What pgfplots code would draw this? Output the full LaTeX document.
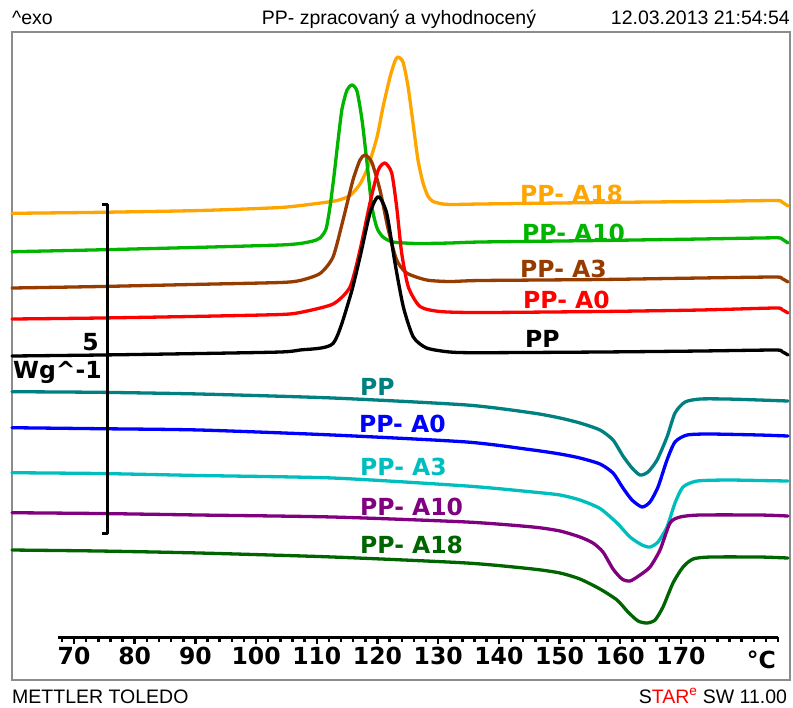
\documentclass[border=0pt]{standalone}
\usepackage{pgfplots}
\pgfplotsset{compat=1.18}
\usepackage{fontspec}
\setmainfont{Liberation Sans}
\newfontfamily\vf{DejaVu Sans}
\definecolor{corange}{RGB}{255,165,0}
\definecolor{cgreen}{RGB}{0,180,0}
\definecolor{cbrown}{RGB}{150,60,0}
\definecolor{cteal}{RGB}{0,128,128}
\definecolor{cblue}{RGB}{0,0,255}
\definecolor{ccyan}{RGB}{0,190,190}
\definecolor{cpurple}{RGB}{128,0,128}
\definecolor{cdgreen}{RGB}{0,100,0}
\definecolor{cframe}{RGB}{140,140,140}
\newcommand\lab{\vf\bfseries\fontsize{23.5bp}{27bp}\selectfont}
\newcommand\hdr{\fontsize{19.5bp}{23bp}\selectfont}
\begin{document}
\begin{tikzpicture}
\begin{axis}[
  at={(12bp,-680bp)}, anchor=south west,
  scale only axis, width=778bp, height=648bp,
  xmin=59.79, xmax=187.96, ymin=32, ymax=680, y dir=reverse,
  axis line style={cframe, line width=1.2bp},
  xtick=\empty, ytick=\empty,
  clip=false,
  every axis plot/.append style={line width=3.3bp, smooth, tension=0.4, line join=round, line cap=round},
]
\path (axis cs:57.81,0) rectangle (axis cs:188.45,707);
% upper (crystallisation) curves
\addplot[corange] coordinates {(59.79,213.3)(74.28,212.3)(90.76,210.5)(103.94,207.5)(109.37,204)(113.33,200.5)(115.47,195.5)(117.12,184)(118.43,167)(119.92,137)(120.91,107)(122.06,77)(122.88,61)(123.38,57)(124.20,62)(125.02,86)(125.85,123)(126.67,160)(127.50,183)(128.3,196)(129.14,201.5)(130.8,204)(132.44,204.5)(136.89,204)(156.66,202.5)(173.13,201.5)(185.49,200.5)(186.6,202)(187.63,206)};
\addplot[cgreen] coordinates {(59.79,251.7)(74.28,249.8)(90.76,247.3)(103.94,245)(107.23,243.5)(109.37,241)(110.53,238)(111.52,229)(112.17,207)(112.83,176)(113.49,141)(114.15,109)(114.98,90)(115.80,85)(116.62,91)(117.45,120)(118.27,163)(119.09,207)(119.92,228)(120.91,237)(122.56,242)(126.5,243.5)(131.94,243)(136.89,242)(156.66,240.5)(173.13,239)(185.49,237.8)(186.6,239)(187.63,243)};
\addplot[cbrown] coordinates {(59.79,288)(74.28,286.5)(90.76,284.3)(103.94,282.5)(107.23,280.5)(110.53,273.5)(112.67,257)(114.32,220)(115.96,180)(117.12,160)(117.94,155)(119.04,162)(120.41,190)(121.79,230)(123.16,260)(124.81,273)(128.1,280)(131.94,281.5)(136.89,280.5)(156.66,279.5)(173.13,278)(185.49,277)(186.6,278.5)(187.63,282)};
\addplot[red] coordinates {(59.79,319)(74.28,318)(90.76,316.3)(103.94,314.5)(107.23,312.5)(112.67,304)(115.47,287)(117.12,250)(118.76,203)(120.13,170)(121.24,163)(122.34,173)(123.16,207)(123.98,253)(125.08,287)(127.00,306.5)(130.30,311.5)(136.89,312.5)(156.66,311.5)(173.13,310)(185.49,308)(186.6,309.5)(187.63,313)};
\addplot[black] coordinates {(59.79,356)(74.28,355)(90.76,353.5)(103.94,352)(107.23,350)(112.67,343.5)(115.47,297)(117.12,257)(118.76,213)(120.13,196.5)(121.51,213)(122.88,263)(124.26,307)(125.90,337)(128.1,348)(131.94,352)(136.89,352.7)(156.66,352)(173.13,351)(185.49,350)(186.6,351.5)(187.63,355)};
% lower (melting) curves
\addplot[cteal] coordinates {(59.79,391.7)(74.28,392.3)(90.76,394)(112.67,398)(134.74,405)(145.62,413)(150.07,418)(153.36,423)(156.66,430)(158.80,440)(160.44,456)(161.93,468)(163.25,475)(164.56,472)(166.05,460)(167.69,437)(169.01,413)(170.66,402)(173.13,399)(177.58,399)(183.01,400)(187.63,401)};
\addplot[cblue] coordinates {(59.79,427.7)(74.28,428.7)(90.76,430)(112.67,435)(134.74,442)(145.62,450)(150.07,454)(153.36,458)(156.66,464)(158.80,473)(160.44,488)(161.93,500)(163.58,507)(164.89,502)(166.21,487)(167.69,460)(169.01,442)(170.99,435)(174.78,434)(183.01,435)(187.63,436)};
\addplot[ccyan] coordinates {(59.79,472.7)(74.28,473.5)(90.76,475.5)(112.67,478)(134.74,486)(145.62,492)(150.07,495)(153.36,500)(156.66,508.5)(159.46,523)(161.60,537)(163.58,545)(164.89,547)(166.21,542)(167.69,527)(169.01,503)(170.33,487)(172.64,481)(177.58,480)(183.01,480.5)(187.63,481)};
\addplot[cpurple] coordinates {(59.79,512.7)(74.28,513.5)(90.76,515)(112.67,517)(134.74,522)(145.62,527)(150.07,531)(153.36,537)(155.50,543)(157.15,552)(158.80,569)(160.28,579)(161.60,581)(163.25,575)(164.89,567)(166.54,550)(168.19,523)(169.84,517)(173.13,515)(183.01,515)(187.63,516)};
\addplot[cdgreen] coordinates {(59.79,550)(74.28,551)(90.76,553)(112.67,557)(134.74,563)(145.62,569)(150.07,573)(153.36,579)(156.66,589)(159.46,600)(161.27,612)(162.92,621)(164.40,623)(165.72,620)(167.03,607)(168.68,583)(170.33,567)(171.98,559)(174.78,557)(183.01,557)(187.63,558)};
% scale bar
\addplot[black, line width=3bp, sharp plot, line cap=butt] coordinates {(74.6,204)(75.6,204)(75.6,533)(74.6,533)};
% labels
\node[anchor=base west, inner sep=0, font=\lab, text=corange] at (axis cs:143.48,202) {PP- A18};
\node[anchor=base west, inner sep=0, font=\lab, text=cgreen] at (axis cs:143.81,241) {PP- A10};
\node[anchor=base west, inner sep=0, font=\lab, text=cbrown] at (axis cs:143.48,277) {PP- A3};
\node[anchor=base west, inner sep=0, font=\lab, text=red] at (axis cs:143.97,308) {PP- A0};
\node[anchor=base west, inner sep=0, font=\lab, text=black] at (axis cs:144.30,347) {PP};
\node[anchor=base west, inner sep=0, font=\lab, text=cteal] at (axis cs:117.12,395) {PP};
\node[anchor=base west, inner sep=0, font=\lab, text=cblue] at (axis cs:116.95,432) {PP- A0};
\node[anchor=base west, inner sep=0, font=\lab, text=ccyan] at (axis cs:117.12,475) {PP- A3};
\node[anchor=base west, inner sep=0, font=\lab, text=cpurple] at (axis cs:117.12,515) {PP- A10};
\node[anchor=base west, inner sep=0, font=\lab, text=cdgreen] at (axis cs:117.12,553) {PP- A18};
\node[anchor=base east, inner sep=0, font=\lab] at (axis cs:74.12,350) {5};
\node[anchor=base west, inner sep=0, font=\lab] at (axis cs:59.95,378) {Wg\textasciicircum-1};
\node[anchor=base, inner sep=0, font=\lab] at (axis cs:183.22,668) {°C};
% header / footer
\node[anchor=base west, inner sep=0, font=\hdr] at (axis cs:59.79,24) {\textasciicircum exo};
\node[anchor=base, inner sep=0, font=\hdr] at (axis cs:123.54,24) {PP- zpracovaný a vyhodnocený};
\node[anchor=base east, inner sep=0, font=\hdr] at (axis cs:187.96,24) {12.03.2013 21:54:54};
\node[anchor=base west, inner sep=0, font=\hdr] at (axis cs:59.79,703) {METTLER TOLEDO};
\node[anchor=base east, inner sep=0, font=\hdr] at (axis cs:187.5,703) {S\textcolor{red}{TAR\textsuperscript{e}} SW 11.00};
\end{axis}
\begin{axis}[
  at={(58bp,-637bp)}, anchor=south west,
  scale only axis, width=720bp, height=5bp,
  xmin=67.36, xmax=186, ymin=0, ymax=1,
  axis x line=bottom, axis y line=none,
  x axis line style={-, black, line width=3bp},
  xtick={70,80,...,170}, minor xtick={68,70,...,186},
  tick align=outside, major tick length=7bp, minor tick length=5bp,
  tick style={black, line width=2.5bp},
  xticklabel style={font=\lab},
  /pgf/number format/assume math mode=true,
]
\addplot[draw=none] coordinates {(70,0)};
\end{axis}
\end{tikzpicture}
\end{document}
